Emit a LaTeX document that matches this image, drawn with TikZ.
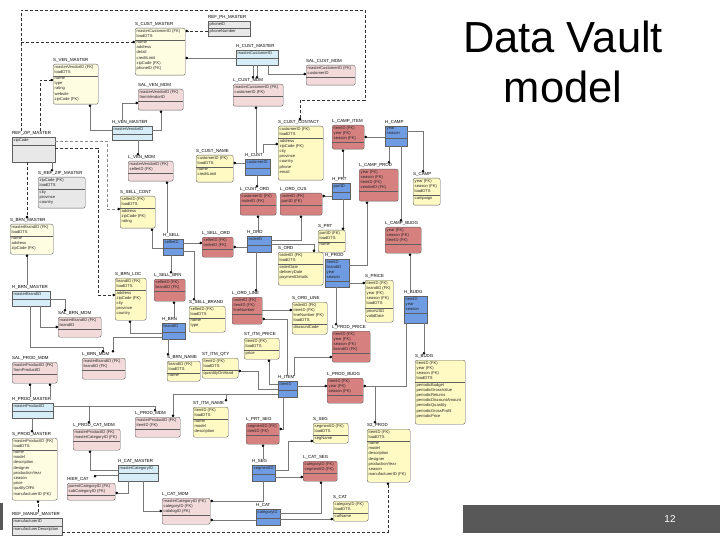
\documentclass[tikz,border=0pt]{standalone}
\usepackage{fontspec}
\setmainfont{Liberation Sans}
\usetikzlibrary{arrows.meta}
\definecolor{hubc}{RGB}{110,155,225}
\definecolor{hubmc}{RGB}{214,237,247}
\definecolor{lnkc}{RGB}{214,128,128}
\definecolor{mdmc}{RGB}{242,218,218}
\definecolor{satc}{RGB}{255,250,196}
\definecolor{satmc}{RGB}{255,253,225}
\definecolor{refbg}{RGB}{232,232,232}
\definecolor{bordc}{RGB}{95,95,95}
\definecolor{linec}{RGB}{120,120,120}
\definecolor{reflc}{RGB}{50,50,50}
\definecolor{barc}{RGB}{88,88,88}
\tikzset{
  boxbase/.style={draw=bordc, line width=0.4pt, inner sep=0pt},
  hub/.style={boxbase, fill=hubc},
  hubM/.style={boxbase, fill=hubmc},
  lnk/.style={boxbase, fill=lnkc, rounded corners=2pt},
  mdm/.style={boxbase, fill=mdmc, rounded corners=2pt},
  sat/.style={boxbase, fill=satc, rounded corners=2pt},
  satM/.style={boxbase, fill=satmc, rounded corners=2pt},
  ref/.style={boxbase, fill=refbg},
  refR/.style={boxbase, fill=refbg, rounded corners=2pt},
  ttl/.style={inner sep=0pt, font=\fontsize{4.4}{5}\selectfont, text=black},
  txt/.style={inner sep=0pt, anchor=north west, align=left, font=\fontsize{4.1}{5.2}\selectfont, text=black!85},
  bline/.style={draw=bordc, line width=0.4pt},
  fk/.style={draw=linec, line width=0.45pt, -{Circle[length=2.6pt,color=black]}},
  refl/.style={draw=reflc, line width=0.6pt, dash pattern=on 3pt off 2pt, -{Circle[length=2.6pt,color=black]}},
}
\newcommand\entbox[9]{%
  \node[#2, anchor=north west, minimum width=#5pt, minimum height=#6pt] (#1) at (#3,#4) {};
  \node[ttl, anchor=south west] (#1-t) at ([yshift=1.2pt]#1.north west) {\detokenize{#1}};
  \draw[bline] ([yshift=-#7pt]#1.north west) -- ([yshift=-#7pt]#1.north east);
  \node[txt] at ([xshift=1.5pt,yshift=-1pt]#1.north west) {#8};
  \node[txt] at ([xshift=1.5pt,yshift=-#7pt-1pt]#1.north west) {#9};
}
\begin{document}
\begin{tikzpicture}[x=1pt,y=-1pt]
\useasboundingbox (0,0) rectangle (720,540);
\fill[white] (0,0) rectangle (720,540);

% ---- entities ----
\entbox{S_CUST_MASTER}{satM}{135}{28}{50}{47}{12}{masterCustomerID (FK)\\loadDTS}{name\\address\\detail\\creditLimit\\zipCode (FK)\\phoneID (FK)}
\entbox{REF_PH_MASTER}{ref}{208}{21}{42}{15}{7.5}{phoneID}{phoneNumber}
\entbox{S_VEN_MASTER}{satM}{53}{64}{45}{40}{12}{masterVendorID (FK)\\loadDTS}{name\\type\\rating\\website\\zipCode (FK)}
\entbox{SAL_VEN_MDM}{mdm}{138}{89}{45}{21}{12}{masterVendorID (FK)\\fromVendorID}{}
\entbox{H_VEN_MASTER}{hubM}{112}{126}{40}{14}{8}{masterVendorID}{}
\entbox{H_CUST_MASTER}{hubM}{236}{50}{42}{15}{8}{masterCustomerID}{}
\entbox{L_CUST_MDM}{mdm}{233}{84}{50}{22}{12}{masterCustomerID (FK)\\customerID (FK)}{}
\entbox{SAL_CUST_MDM}{mdm}{306}{65}{49}{20}{12}{masterCustomerID (FK)\\customerID}{}
\entbox{REF_ZIP_MASTER}{ref}{12}{137}{43}{25}{8}{zipCode}{}
\entbox{S_REF_ZIP_MASTER}{refR}{38}{177}{47}{31}{12}{zipCode (FK)\\loadDTS}{city\\province\\country}
\entbox{S_BRN_MASTER}{satM}{10}{224}{43}{30}{12}{masterBrandID (FK)\\loadDTS}{name\\address\\zipCode (FK)}
\entbox{L_VEN_MDM}{mdm}{128}{161}{45}{20}{12}{masterVendorID (FK)\\sellerID (FK)}{}
\entbox{S_SELL_CONT}{sat}{120}{196}{35}{32}{12}{sellerID (FK)\\loadDTS}{address\\zipCode (FK)\\rating}
\entbox{S_CUST_CONTACT}{sat}{278}{126}{45}{54}{12}{customerID (FK)\\loadDTS}{address\\zipCode (FK)\\city\\province\\country\\phone\\email}
\entbox{H_CUST}{hub}{245}{159}{25}{16}{9}{customerID}{}
\entbox{S_CUST_NAME}{sat}{196}{155}{37}{27}{12}{customerID (FK)\\loadDTS}{name\\creditLimit}
\entbox{L_CUST_ORD}{lnk}{240}{193}{36}{22}{12}{customerID (FK)\\orderID (FK)}{}
\entbox{L_ORD_CUS}{lnk}{280}{193}{42}{22}{12}{orderID (FK)\\partID (FK)}{}
\entbox{H_SELL}{hub}{163}{239}{20}{16}{9}{sellerID}{}
\entbox{L_SELL_ORD}{lnk}{202}{237}{31}{20}{12}{sellerID (FK)\\orderID (FK)}{}
\entbox{H_ORD}{hub}{247}{236}{24}{16}{9}{orderID}{}
\entbox{S_ORD}{sat}{278}{252}{45}{33}{12}{orderID (FK)\\loadDTS}{orderDate\\deliveryDate\\paymentDetails}
\entbox{L_CAMP_ITEM}{lnk}{332}{125}{32}{24}{17}{itemID (FK)\\year (FK)\\season (FK)}{}
\entbox{H_CAMP}{hub}{385}{126}{22}{20}{12}{year\\season}{}
\entbox{H_PRT}{hub}{332}{183}{18}{16}{9}{partID}{}
\entbox{L_CAMP_PROD}{lnk}{359}{169}{39}{32}{22}{year (FK)\\season (FK)\\itemID (FK)\\vendorID (FK)}{}
\entbox{S_CAMP}{sat}{413}{178}{27}{27}{17}{year (FK)\\season (FK)\\loadDTS}{campaign}
\entbox{L_CAMP_BUDG}{lnk}{385}{227}{36}{26}{17}{year (FK)\\season (FK)\\itemID (FK)}{}
\entbox{S_PRT}{sat}{318}{230}{27}{22}{12}{partID (FK)\\loadDTS}{name}
\entbox{H_PROD}{hub}{325}{259}{24}{28}{22}{itemID\\brandID\\year\\season}{}
\entbox{S_PRICE}{sat}{365}{280}{28}{42}{28}{itemID (FK)\\brandID (FK)\\year (FK)\\season (FK)\\loadDTS}{priceUSD\\validDate}
\entbox{H_BUDG}{hub}{404}{296}{23}{27}{17}{itemID\\year\\season}{}
\entbox{L_PROD_PRICE}{lnk}{332}{331}{38}{31}{22}{itemID (FK)\\year (FK)\\season (FK)\\brandID (FK)}{}
\entbox{S_BUDG}{sat}{415}{360}{50}{64}{22}{itemID (FK)\\year (FK)\\season (FK)\\loadDTS}{periodicBudget\\periodicGrossValue\\periodicReturns\\periodicDiscountAmount\\periodicQuantity\\periodicGrossProfit\\periodicPrice}
\entbox{L_PROD_BUDG}{lnk}{327}{378}{36}{25}{17}{itemID (FK)\\year (FK)\\season (FK)}{}
\entbox{L_SELL_BRN}{lnk}{154}{279}{31}{22}{12}{sellerID (FK)\\brandID (FK)}{}
\entbox{H_BRN}{hub}{162}{323}{23}{16}{9}{brandID}{}
\entbox{S_BRN_NAME}{sat}{167}{361}{33}{20}{12}{brandID (FK)\\loadDTS}{name}
\entbox{S_SELL_BRAND}{sat}{189}{306}{36}{26}{12}{sellerID (FK)\\loadDTS}{name\\type}
\entbox{L_ORD_LINE}{lnk}{232}{297}{30}{27}{17}{orderID (FK)\\itemID (FK)\\lineNumber}{}
\entbox{S_ORD_LINE}{sat}{292}{302}{35}{32}{22}{orderID (FK)\\itemID (FK)\\lineNumber (FK)\\loadDTS}{discountCode}
\entbox{ST_ITM_PRICE}{sat}{244}{338}{35}{21}{12}{itemID (FK)\\loadDTS}{price}
\entbox{ST_ITM_QTY}{sat}{202}{358}{36}{20}{12}{itemID (FK)\\loadDTS}{quantityOnHand}
\entbox{H_ITEM}{hub}{278}{381}{19}{16}{9}{itemID}{}
\entbox{H_BRN_MASTER}{hubM}{12}{291}{38}{15}{8}{masterBrandID}{}
\entbox{SAL_BRN_MDM}{mdm}{58}{317}{43}{20}{12}{masterBrandID (FK)\\brandID}{}
\entbox{S_BRN_LOC}{sat}{115}{278}{31}{42}{12}{brandID (FK)\\loadDTS}{address\\zipCode (FK)\\city\\province\\country}
\entbox{L_BRN_MDM}{mdm}{82}{358}{43}{21}{12}{masterBrandID (FK)\\brandID (FK)}{}
\entbox{SAL_PROD_MDM}{mdm}{12}{362}{45}{21}{12}{masterProductID (FK)\\fromProductID}{}
\entbox{H_PROD_MASTER}{hubM}{12}{403}{41}{15}{8}{masterProductID}{}
\entbox{S_PROD_MASTER}{satM}{12}{438}{45}{62}{12}{masterProductID (FK)\\loadDTS}{name\\model\\description\\designer\\productionYear\\season\\price\\qualityOfFit\\manufacturerID (FK)}
\entbox{REF_MANUF_MASTER}{ref}{12}{518}{50}{17}{8.5}{manufacturerID}{manufacturerDescription}
\entbox{L_PROD_MDM}{mdm}{135}{417}{45}{20}{12}{masterProductID (FK)\\itemID (FK)}{}
\entbox{L_PROD_CAT_MDM}{mdm}{73}{429}{47}{21}{12}{masterProductID (FK)\\masterCategoryID (FK)}{}
\entbox{H_CAT_MASTER}{hubM}{118}{465}{40}{16}{8}{masterCategoryID}{}
\entbox{HIER_CAT}{mdm}{67}{483}{48}{17}{12}{parentCategoryID (FK)\\subCategoryID (FK)}{}
\entbox{ST_ITM_NAME}{sat}{193}{407}{35}{30}{12}{itemID (FK)\\loadDTS}{name\\model\\description}
\entbox{L_PRT_SEG}{lnk}{246}{423}{33}{21}{12}{segmentID (FK)\\itemID (FK)}{}
\entbox{H_SEG}{hub}{252}{465}{23}{16}{9}{segmentID}{}
\entbox{S_SEG}{sat}{313}{423}{35}{20}{12}{segmentID (FK)\\loadDTS}{segName}
\entbox{L_CAT_SEG}{lnk}{303}{461}{34}{20}{12}{categoryID (FK)\\segmentID (FK)}{}
\entbox{H_CAT}{hub}{256}{509}{24}{16}{9}{categoryID}{}
\entbox{S_CAT}{sat}{333}{501}{35}{20}{12}{categoryID (FK)\\loadDTS}{catName}
\entbox{L_CAT_MDM}{mdm}{162}{498}{48}{26}{17}{masterCategoryID (FK)\\categoryID (FK)\\catalogID (FK)}{}
\entbox{S2_PROD}{sat}{367}{429}{43}{53}{12}{itemID (FK)\\loadDTS}{name\\model\\description\\designer\\productionYear\\season\\manufacturerID (FK)}

% ---- junctions ----
\coordinate (j1) at (89,406);
\coordinate (j2) at (226,394);
\coordinate (j3) at (375,386);
\coordinate (j4) at (21,42);

% ---- solid connectors ----
\draw[fk] (H_CUST_MASTER.west |- 0,58) -- (S_CUST_MASTER.east |- 0,58);
\draw[fk] (H_CUST_MASTER.south -| 253,0) -- (L_CUST_MDM-t.north -| 253,0);
\draw[fk] (H_CUST_MASTER.south -| 257,0) -- (L_CUST_MDM-t.north -| 257,0);
\draw[fk] (H_CUST_MASTER.south -| 268,0) |- (SAL_CUST_MDM.west |- 0,74);
\draw[fk] (H_CUST-t.north -| 256,0) -- (L_CUST_MDM.south -| 256,0);
\draw[fk] (H_CUST-t.north -| 263,0) |- (S_CUST_CONTACT.west |- 0,144);
\draw[fk] (H_CUST.west |- 0,163) -- (S_CUST_NAME.east |- 0,163);
\draw[fk] (H_CUST.south -| 257,0) -- (L_CUST_ORD-t.north -| 257,0);
\draw[fk] (H_ORD-t.north -| 258,0) -- (L_CUST_ORD.south -| 258,0);
\draw[fk] (H_ORD.west |- 0,247) -- (L_SELL_ORD.east |- 0,247);
\draw[fk] (H_SELL.east |- 0,243) -- (L_SELL_ORD.west |- 0,243);
\draw[fk] (H_ORD.east |- 0,240) -| (L_ORD_CUS.south -| 301,0);
\draw[fk] (H_ORD.east |- 0,244) -| (S_ORD.north -| 314,0);
\draw[fk] (H_SELL.west |- 0,248) -| (S_SELL_CONT.south -| 152,0);
\draw[fk] (H_SELL-t.north -| 167,0) -- (L_VEN_MDM.south -| 167,0);
\draw[fk] (H_VEN_MASTER.south -| 138,0) -- (L_VEN_MDM-t.north -| 138,0);
\draw[fk] (H_VEN_MASTER.west |- 0,130) -| (S_VEN_MASTER.south -| 90,0);
\draw[fk] (H_VEN_MASTER-t.north -| 122,0) |- (SAL_VEN_MDM.west |- 0,103);
\draw[fk] (H_VEN_MASTER.east |- 0,130) -| (SAL_VEN_MDM.south -| 161,0);
\draw[fk] (H_SELL.south -| 171,0) -- (L_SELL_BRN-t.north -| 171,0);
\draw[fk] (H_BRN-t.north -| 174,0) -- (L_SELL_BRN.south -| 174,0);
\draw[fk] (H_SELL.east |- 0,251) -| (S_SELL_BRAND-t.north -| 194,0);
\draw[fk] (H_BRN.south -| 168,0) -- (S_BRN_NAME-t.north -| 168,0);
\draw[fk] (H_BRN.west |- 0,333) -| (S_BRN_LOC.south -| 130,0);
\draw[fk] (H_BRN.west |- 0,337) -| (L_BRN_MDM-t.north -| 113,0);
\draw[fk] (H_BRN_MASTER.south -| 30,0) |- (103,347) -- (L_BRN_MDM-t.north -| 103,0);
\draw[fk] (H_BRN_MASTER.south -| 40,0) |- (SAL_BRN_MDM.west |- 0,327);
\draw[fk] (H_BRN_MASTER.east |- 0,299) -| (SAL_BRN_MDM-t.north -| 65,0);
\draw[fk] (H_BRN_MASTER-t.north -| 27,0) -- (S_BRN_MASTER.south -| 27,0);
\draw[fk] (REF_ZIP_MASTER.south -| 52,0) -- (S_REF_ZIP_MASTER-t.north -| 52,0);
\draw[fk] (H_PROD_MASTER-t.north -| 30,0) -- (SAL_PROD_MDM.south -| 30,0);
\draw[fk] (H_PROD_MASTER-t.north -| 50,0) -- (SAL_PROD_MDM.south -| 50,0);
\draw[fk] (H_PROD_MASTER.south -| 32,0) -- (S_PROD_MASTER-t.north -| 32,0);
\draw[fk] (H_PROD_MASTER.east |- 0,406) -| (L_PROD_MDM-t.north -| 155,0);
\draw[fk] (j1) -- (L_PROD_CAT_MDM-t.north -| j1);
\draw[fk] (H_CAT_MASTER.west |- 0,470) -| (L_PROD_CAT_MDM.south -| 90,0);
\draw[fk] (H_CAT_MASTER.west |- 0,475) -| (HIER_CAT-t.north -| 95,0);
\draw[fk] (H_CAT_MASTER.south -| 128,0) |- (HIER_CAT.east |- 0,493);
\draw[fk] (H_CAT_MASTER.south -| 143,0) |- (L_CAT_MDM.west |- 0,511);
\draw[fk] (H_SEG.south -| 263,0) |- (L_CAT_MDM.east |- 0,501);
\draw[fk] (H_CAT.west |- 0,520) -- (L_CAT_MDM.east |- 0,520);
\draw[fk] (H_CAT.east |- 0,513) -| (L_CAT_SEG.south -| 321,0);
\draw[fk] (H_CAT.east |- 0,519) -- (S_CAT.west |- 0,519);
\draw[fk] (H_SEG.east |- 0,477) -- (L_CAT_SEG.west |- 0,477);
\draw[fk] (H_SEG-t.north -| 263,0) -- (L_PRT_SEG.south -| 263,0);
\draw[fk] (H_SEG.east |- 0,470) -- (288,470) |- (S_SEG.west |- 0,441);
\draw[fk] (H_ITEM.south -| 283,0) |- (L_PRT_SEG.east |- 0,429);
\draw[fk] (H_ITEM.west |- 0,394) -| (L_PROD_MDM.north -| 173,0);
\draw[fk] (j2) -- (ST_ITM_NAME-t.north -| j2);
\draw[fk] (H_ITEM.west |- 0,384) -| (ST_ITM_PRICE.south -| 269,0);
\draw[fk] (H_ITEM.west |- 0,389) -- (258,389) |- (ST_ITM_QTY.east |- 0,371);
\draw[fk] (H_ITEM-t.north -| 287,0) |- (L_ORD_LINE.east |- 0,319);
\draw[fk] (H_ORD.south -| 256,0) -- (L_ORD_LINE-t.north -| 256,0);
\draw[fk] (L_ORD_LINE.east |- 0,310) -- (S_ORD_LINE.west |- 0,310);
\draw[fk] (H_ITEM-t.north -| 294,0) |- (L_PROD_PRICE.west |- 0,357);
\draw[fk] (H_ITEM.east |- 0,386) -- (L_PROD_BUDG.west |- 0,386);
\draw[fk] (H_BUDG.south -| 406,0) |- (L_PROD_BUDG.east |- 0,386);
\draw[fk] (j3) -- (S2_PROD-t.north -| j3);
\draw[fk] (H_BUDG.south -| 424,0) -- (S_BUDG-t.north -| 424,0);
\draw[fk] (H_PROD.south -| 336,0) -- (L_PROD_PRICE-t.north -| 336,0);
\draw[fk] (H_PROD.east |- 0,283) -- (S_PRICE.west |- 0,283);
\draw[fk] (H_PROD.east |- 0,265) -| (L_CAMP_PROD.south -| 367,0);
\draw[fk] (H_BUDG-t.north -| 410,0) -- (L_CAMP_BUDG.south -| 410,0);
\draw[fk] (H_CAMP.south -| 401,0) -- (L_CAMP_BUDG-t.north -| 401,0);
\draw[fk] (H_CAMP.south -| 389,0) -- (L_CAMP_PROD-t.north -| 389,0);
\draw[fk] (H_CAMP.east |- 0,131) -| (S_CAMP-t.north -| 423,0);
\draw[fk] (H_CAMP.west |- 0,137) -- (L_CAMP_ITEM.east |- 0,137);
\draw[fk] (H_PRT-t.north -| 343,0) -- (L_CAMP_ITEM.south -| 343,0);
\draw[fk] (H_PRT.south -| 343,0) -- (S_PRT.north -| 343,0);
\draw[fk] (H_PRT.west |- 0,196) -- (L_ORD_CUS.east |- 0,196);

% ---- dashed reference connectors ----
\draw[refl] (REF_PH_MASTER.west |- 0,31) -- (S_CUST_MASTER.east |- 0,31);
\draw[refl] (REF_ZIP_MASTER-t.north -| 21,0) -- (21,10) -- (365,10) -- (365,100) -- (300,100) -- (S_CUST_CONTACT-t.north -| 300,0);
\draw[refl] (j4) -- (S_CUST_MASTER.west |- j4);
\draw[refl] (REF_ZIP_MASTER-t.north -| 40,0) |- (S_VEN_MASTER.west |- 0,80);
\draw[refl] (REF_ZIP_MASTER.south -| 27,0) -- (S_BRN_MASTER-t.north -| 27,0);
\draw[refl] (REF_ZIP_MASTER.east |- 0,148) -- (98,148) |- (S_BRN_LOC.west |- 0,295);
\draw[refl, draw=black!45] (REF_ZIP_MASTER.east |- 0,141) -- (107,141) |- (S_SELL_CONT.west |- 0,209);
\draw[refl] (REF_MANUF_MASTER-t.north -| 38,0) -- (S_PROD_MASTER.south -| 38,0);
\draw[refl] (REF_MANUF_MASTER.east |- 0,532) -| (S2_PROD.south -| 388,0);

% ---- slide title and footer ----
\node[anchor=base, inner sep=0pt, font=\fontsize{43.5}{50}\selectfont] (title1) at (563,53) {Data Vault};
\node[anchor=base, inner sep=0pt, font=\fontsize{43.5}{50}\selectfont] (title2) at (563,103) {model};
\fill[barc] (463,505) rectangle (720,533);
\fill[barc] (0,503) rectangle (3,530);
\node[text=white, inner sep=0pt, font=\fontsize{10}{12}\selectfont] (pgno) at (670,519) {12};
\end{tikzpicture}
\end{document}
